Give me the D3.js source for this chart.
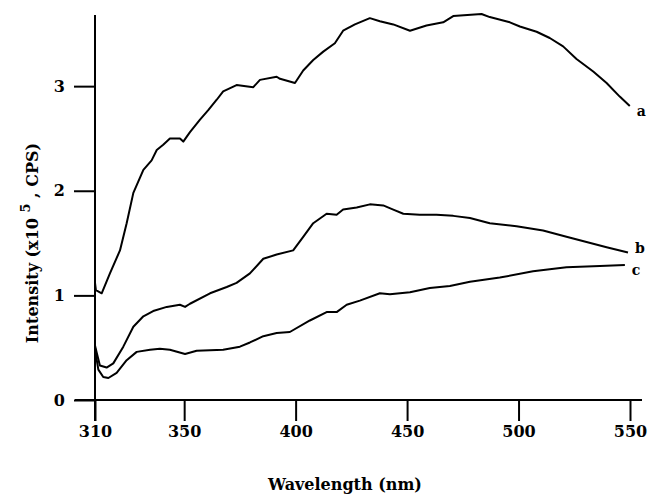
<!DOCTYPE html>
<html>
<head>
<meta charset="utf-8">
<script src="https://cdn.jsdelivr.net/npm/d3@7"></script>
<style>
  body { margin: 0; background: #fff; }
  svg { display: block; }
  text { font-family: "DejaVu Serif", "Liberation Serif", serif; font-weight: bold; fill: #000; }
</style>
</head>
<body>
<svg width="649" height="494"></svg>
<script>
// wavelengths (nm) and intensities (x10^5 CPS)
var waveA = [310, 310.4, 313, 316.7, 321.2, 324.2, 327.2, 331.7, 335.4, 337.7, 340.6, 343.6, 348.1, 349.6, 352.6, 357.1, 360.8, 364.6, 367.5, 373.5, 381, 384, 391.5, 393, 399.7, 403.4, 407.9, 412.4, 417.6, 421.3, 426.6, 433.3, 437.8, 443.8, 451.3, 458.7, 466.2, 470.7, 483.4, 487.1, 496.1, 500.6, 508.1, 514, 520, 526, 533.5, 539.5, 545.4, 549.9];
var intA  = [1.12, 1.05, 1.02, 1.21, 1.43, 1.69, 1.98, 2.2, 2.29, 2.39, 2.44, 2.5, 2.5, 2.47, 2.56, 2.68, 2.77, 2.87, 2.95, 3.01, 2.99, 3.06, 3.09, 3.07, 3.03, 3.15, 3.25, 3.33, 3.41, 3.53, 3.59, 3.65, 3.62, 3.59, 3.53, 3.58, 3.61, 3.67, 3.69, 3.66, 3.61, 3.57, 3.52, 3.46, 3.38, 3.26, 3.14, 3.03, 2.9, 2.81];

var waveB = [310, 310.8, 312.2, 315.2, 318.2, 322.7, 327.2, 331.7, 336.1, 342.2, 348.1, 350.4, 352.6, 361.6, 369.1, 373.5, 379.5, 385.5, 391.5, 398.9, 403.4, 407.9, 413.9, 418.4, 421.3, 427.4, 433.3, 439.3, 443.8, 448.3, 455.7, 463.2, 470.7, 478.2, 487.1, 499.1, 511, 521.5, 530.5, 539.5, 549.1];
var intB  = [0.52, 0.45, 0.33, 0.31, 0.35, 0.51, 0.7, 0.8, 0.85, 0.89, 0.91, 0.89, 0.92, 1.02, 1.08, 1.12, 1.21, 1.35, 1.39, 1.43, 1.56, 1.69, 1.78, 1.77, 1.82, 1.84, 1.87, 1.86, 1.82, 1.78, 1.77, 1.77, 1.76, 1.74, 1.69, 1.66, 1.62, 1.56, 1.51, 1.46, 1.41];

var waveC = [310, 310.5, 311.5, 313.7, 316, 319.7, 324.2, 328.7, 334.7, 339.1, 343.6, 350.4, 355.6, 367.5, 375, 379.5, 385.5, 391.5, 397.4, 406.4, 413.9, 418.4, 422.9, 428.8, 437.8, 442.3, 451.3, 460.2, 469.2, 478.2, 491.6, 506.5, 521.5, 536.5, 547.7];
var intC  = [0.5, 0.42, 0.29, 0.22, 0.21, 0.26, 0.38, 0.46, 0.48, 0.49, 0.48, 0.44, 0.47, 0.48, 0.51, 0.55, 0.61, 0.64, 0.65, 0.76, 0.84, 0.84, 0.91, 0.95, 1.02, 1.01, 1.03, 1.07, 1.09, 1.13, 1.17, 1.23, 1.27, 1.28, 1.29];

var xTicks = [310, 350, 400, 450, 500, 550];
var yTicks = [0, 1, 2, 3];
var seriesNames = ["a", "b", "c"];

var svg = d3.select("svg");

var x = d3.scaleLinear().domain([310, 550]).range([95, 630]);
var y = d3.scaleLinear().domain([0, 3.68]).range([400, 15]);

function pairs(w, v) {
  return w.map(function(d, i) { return [d, v[i]]; });
}
var series = [pairs(waveA, intA), pairs(waveB, intB), pairs(waveC, intC)];

// x axis line, ticks hang below
svg.append("line")
    .attr("x1", x(310) - 20).attr("x2", 642)
    .attr("y1", y(0)).attr("y2", y(0))
    .attr("stroke", "#000").attr("stroke-width", 2);

var xAxis = d3.axisBottom(x).tickValues(xTicks).tickSize(21).tickPadding(5).tickSizeOuter(0);
var gx = svg.append("g").attr("transform", "translate(0," + y(0) + ")").call(xAxis);
gx.select(".domain").remove();
gx.selectAll("line").attr("stroke-width", 2);
gx.selectAll("text").attr("font-size", 16).attr("font-family", null);

// y axis line, runs down past the x axis to form the 310 tick
svg.append("line")
    .attr("x1", x(310)).attr("x2", x(310))
    .attr("y1", y.range()[1]).attr("y2", y(0) + 21)
    .attr("stroke", "#000").attr("stroke-width", 2);

var yAxis = d3.axisLeft(y).tickValues(yTicks).tickFormat(d3.format("d"))
    .tickSize(21).tickPadding(9).tickSizeOuter(0);
var gy = svg.append("g").attr("transform", "translate(" + x(310) + ",0)").call(yAxis);
gy.select(".domain").remove();
gy.selectAll("line").attr("stroke-width", 2);
gy.selectAll("text").attr("font-size", 16).attr("font-family", null);

// curves
var line = d3.line()
    .x(function(d) { return x(d[0]); })
    .y(function(d) { return y(d[1]); });

svg.append("g").selectAll("path")
    .data(series)
  .enter().append("path")
    .attr("d", line)
    .attr("fill", "none")
    .attr("stroke", "#000")
    .attr("stroke-width", 2)
    .attr("stroke-linejoin", "round");

// end labels
var labelDy = [10, 1, 10];
svg.append("g").selectAll("text")
    .data(series)
  .enter().append("text")
    .attr("x", function(d) { return x(d[d.length - 1][0]) + 7; })
    .attr("y", function(d, i) { return y(d[d.length - 1][1]) + labelDy[i]; })
    .attr("font-size", 14)
    .text(function(d, i) { return seriesNames[i]; });

// axis titles
svg.append("text")
    .attr("x", 345).attr("y", 490)
    .attr("text-anchor", "middle")
    .attr("font-size", 16)
    .text("Wavelength (nm)");

var yt = svg.append("text")
    .attr("transform", "translate(38,243) rotate(-90)")
    .attr("text-anchor", "middle")
    .attr("font-size", 16);
yt.append("tspan").text("Intensity (x10 ");
yt.append("tspan").attr("dy", -8).attr("font-size", 13).text("5");
yt.append("tspan").attr("dy", 8).text(" , CPS)");
</script>
</body>
</html>
